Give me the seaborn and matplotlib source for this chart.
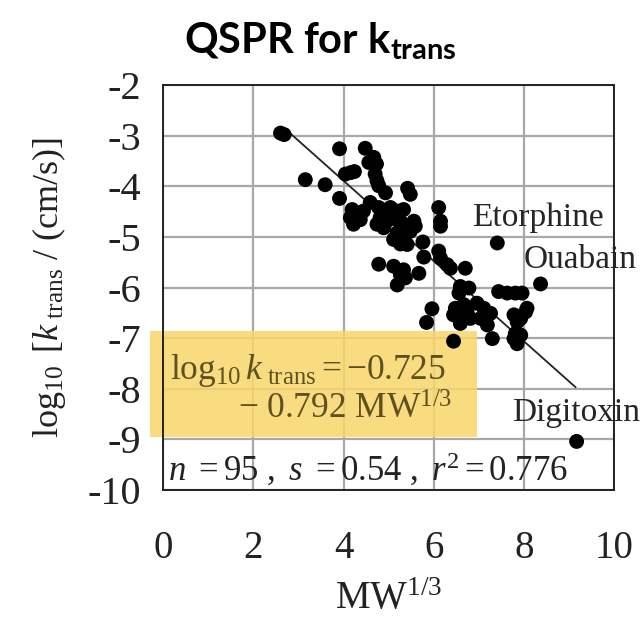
import matplotlib
matplotlib.use("Agg")
import matplotlib.pyplot as plt
import seaborn as sns
import pandas as pd
from matplotlib.patches import Rectangle

# ---- data ----
mw_cuberoot = [2.60, 2.68, 3.91, 4.48, 4.67, 4.73, 4.56, 4.04, 4.16, 4.24,
               4.70, 4.74, 4.78, 3.15, 3.59, 3.91, 4.93, 5.42, 5.48, 4.59,
               4.19, 4.15, 4.22, 4.37, 4.44, 4.78, 4.89, 5.04, 5.19, 5.33,
               4.81, 4.96, 5.11, 4.89, 4.74, 5.26, 5.41, 5.56, 5.19, 5.11,
               5.33, 5.48, 5.59, 5.26, 5.41, 5.76, 5.78, 6.11, 6.15, 6.15,
               7.41, 6.11, 6.15, 6.30, 6.37, 6.70, 4.78, 5.11, 5.33, 5.26,
               5.19, 5.37, 5.67, 6.59, 6.78, 6.56, 8.37, 7.44, 7.63, 7.81,
               7.96, 5.96, 5.84, 6.48, 6.67, 6.96, 7.11, 7.26, 6.44, 6.59,
               6.81, 7.04, 7.19, 6.74, 7.30, 7.78, 7.93, 8.04, 8.07, 7.85,
               7.78, 7.85, 7.93, 7.81, 6.44, 9.17]
log_ktrans = [-2.95, -2.98, -3.26, -3.25, -3.43, -3.56, -3.53, -3.76, -3.73, -3.71,
              -3.76, -3.89, -3.99, -3.87, -3.97, -4.24, -4.13, -4.04, -4.16, -4.32,
              -4.46, -4.62, -4.75, -4.66, -4.49, -4.42, -4.49, -4.42, -4.49, -4.46,
              -4.62, -4.69, -4.62, -4.82, -4.75, -4.69, -4.79, -4.69, -4.92, -5.05,
              -5.02, -4.89, -4.79, -5.14, -5.15, -5.10, -5.40, -4.42, -4.69, -4.79,
              -5.12, -5.28, -5.42, -5.55, -5.62, -5.62, -5.54, -5.58, -5.65, -5.75,
              -5.95, -5.81, -5.72, -5.98, -6.01, -6.11, -5.93, -6.08, -6.11, -6.11,
              -6.11, -6.42, -6.69, -6.41, -6.34, -6.31, -6.41, -6.51, -6.54, -6.71,
              -6.61, -6.61, -6.74, -6.48, -7.01, -6.54, -6.61, -6.48, -6.41, -6.68,
              -7.01, -7.11, -6.94, -6.91, -7.06, -9.04]
fit_x = [2.7, 9.15]
intercept = -0.725
slope = -0.792
labels = ["Etorphine", "Ouabain", "Digitoxin"]
label_x = [6.84, 8.0, 7.73]
label_y = [-4.63, -5.46, -8.48]
x_ticks = [0, 2, 4, 6, 8, 10]
y_ticks = [-2, -3, -4, -5, -6, -7, -8, -9, -10]

sns.set_style("white")
plt.rcParams["font.family"] = ["Liberation Serif", "DejaVu Sans"]
plt.rcParams["mathtext.fontset"] = "custom"
plt.rcParams["mathtext.rm"] = "Liberation Serif"
plt.rcParams["mathtext.it"] = "Liberation Serif:italic"
plt.rcParams["mathtext.bf"] = "Liberation Serif:bold"
plt.rcParams["mathtext.sf"] = "Lato:bold"
plt.rcParams["axes.unicode_minus"] = False

fig = plt.figure(figsize=(6.41, 6.24), dpi=100)
ax = fig.add_axes([0.2548, 0.2147, 0.9579 - 0.2548, 0.8638 - 0.2147])

df = pd.DataFrame({"x": mw_cuberoot, "y": log_ktrans})
sns.scatterplot(data=df, x="x", y="y", ax=ax, color="black", s=115,
                edgecolor="none", zorder=3)
fy = [intercept + slope * v for v in fit_x]
sns.lineplot(x=fit_x, y=fy, ax=ax, color="#222222", lw=1.3, zorder=2)

ax.set_xlim(0, 10)
ax.set_ylim(-10, -2)
ax.set_xticks(x_ticks)
ax.set_yticks(y_ticks)
ax.set_xticklabels([str(v) for v in x_ticks], fontsize=28)
ax.set_yticklabels([str(v) for v in y_ticks], fontsize=29)
ax.grid(True, color="#a8a8a8", lw=1.6)
ax.set_axisbelow(True)
for sp in ax.spines.values():
    sp.set_color("#222222")
    sp.set_linewidth(1.4)
ax.tick_params(axis="x", direction="inout", length=14, width=1.4, pad=22, colors="#222222")
ax.tick_params(axis="y", direction="out", length=11, width=1.4, pad=5, colors="#222222")
ax.set_xlabel(r"${\rm MW}^{1/3}$", fontsize=28, labelpad=10, color="#222222")
ax.set_ylabel(r"$\log_{10}\ [k_{\rm\ trans}\ /\ ({\rm cm/s})]$", fontsize=26,
              labelpad=14, color="#222222")

for t, lx, ly in zip(labels, label_x, label_y):
    ax.text(lx, ly, t, fontsize=24, va="center", ha="left", color="#262626",
            clip_on=False)

box = Rectangle((-0.30, -8.96), 7.27, 2.10, facecolor="#f9d66a", alpha=0.85,
                edgecolor="none", zorder=2.5, clip_on=False, transform=ax.transData)
ax.add_patch(box)
ax.text(0.15, -7.63, r"$\log_{10}k_{\rm\ trans}=-0.725$", fontsize=25.5,
        va="center", ha="left", color="#5e5020", zorder=4)
ax.text(1.65, -8.42, r"$-\ 0.792\ {\rm MW}^{1/3}$", fontsize=25.5,
        va="center", ha="left", color="#5e5020", zorder=4)
ax.text(0.1, -9.61, r"$n\ = 95\ ,\ s\ = 0.54\ ,\ r^2 = 0.776$", fontsize=25,
        va="center", ha="left", color="#222222", zorder=4)

fig.text(0.5, 0.934, r"$\mathsf{QSPR\ for\ k_{trans}}$", fontsize=30,
         ha="center", va="center", color="black")

fig.savefig("out.png", dpi=100)
